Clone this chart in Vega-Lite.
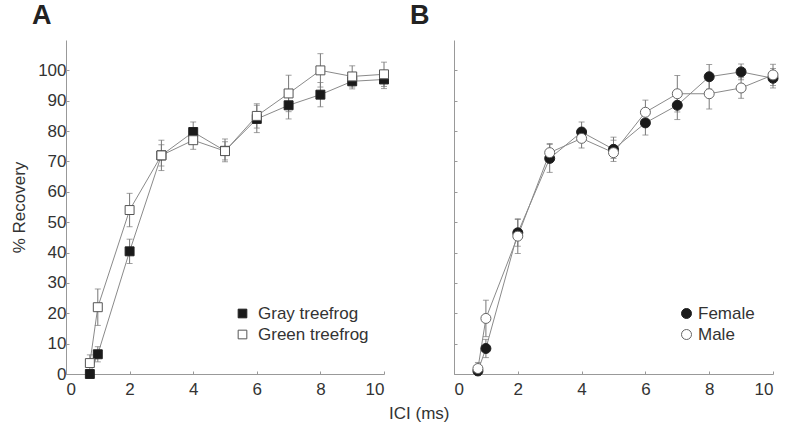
{
  "$schema": "https://vega.github.io/schema/vega-lite/v6.json",
  "padding": {"left": 10, "top": 2, "right": 2, "bottom": 5},
  "background": "white",
  "datasets": {
    "d": [
      {"panel": "A", "series": "Gray treefrog", "ici": 0.75, "mean": 0, "lo": -0.8, "hi": 0.8},
      {"panel": "A", "series": "Gray treefrog", "ici": 1, "mean": 6.5, "lo": 4, "hi": 9},
      {"panel": "A", "series": "Gray treefrog", "ici": 2, "mean": 40.4, "lo": 36.4, "hi": 44.4},
      {"panel": "A", "series": "Gray treefrog", "ici": 3, "mean": 72, "lo": 68.5, "hi": 75.5},
      {"panel": "A", "series": "Gray treefrog", "ici": 4, "mean": 79.7, "lo": 76.4, "hi": 83},
      {"panel": "A", "series": "Gray treefrog", "ici": 5, "mean": 73.5, "lo": 70.5, "hi": 76.5},
      {"panel": "A", "series": "Gray treefrog", "ici": 6, "mean": 84, "lo": 79.5, "hi": 88.5},
      {"panel": "A", "series": "Gray treefrog", "ici": 7, "mean": 88.5, "lo": 84, "hi": 93},
      {"panel": "A", "series": "Gray treefrog", "ici": 8, "mean": 92, "lo": 88, "hi": 96},
      {"panel": "A", "series": "Gray treefrog", "ici": 9, "mean": 96.4, "lo": 93.9, "hi": 98.9},
      {"panel": "A", "series": "Gray treefrog", "ici": 10, "mean": 97, "lo": 94, "hi": 100},
      {"panel": "A", "series": "Green treefrog", "ici": 0.75, "mean": 3.6, "lo": 0.9, "hi": 6.3},
      {"panel": "A", "series": "Green treefrog", "ici": 1, "mean": 22, "lo": 16, "hi": 28},
      {"panel": "A", "series": "Green treefrog", "ici": 2, "mean": 54, "lo": 48.5, "hi": 59.5},
      {"panel": "A", "series": "Green treefrog", "ici": 3, "mean": 72, "lo": 67, "hi": 77},
      {"panel": "A", "series": "Green treefrog", "ici": 4, "mean": 77, "lo": 74, "hi": 80},
      {"panel": "A", "series": "Green treefrog", "ici": 5, "mean": 73.4, "lo": 69.9, "hi": 77.4},
      {"panel": "A", "series": "Green treefrog", "ici": 6, "mean": 85, "lo": 81, "hi": 89},
      {"panel": "A", "series": "Green treefrog", "ici": 7, "mean": 92.4, "lo": 86.4, "hi": 98.4},
      {"panel": "A", "series": "Green treefrog", "ici": 8, "mean": 100, "lo": 94.5, "hi": 105.5},
      {"panel": "A", "series": "Green treefrog", "ici": 9, "mean": 98, "lo": 94.5, "hi": 101.5},
      {"panel": "A", "series": "Green treefrog", "ici": 10, "mean": 98.7, "lo": 94.7, "hi": 102.7},
      {"panel": "B", "series": "Female", "ici": 0.75, "mean": 1, "lo": -0.5, "hi": 2.5},
      {"panel": "B", "series": "Female", "ici": 1, "mean": 8.4, "lo": 5.4, "hi": 11.4},
      {"panel": "B", "series": "Female", "ici": 2, "mean": 46.5, "lo": 42.1, "hi": 50.9},
      {"panel": "B", "series": "Female", "ici": 3, "mean": 71, "lo": 66.4, "hi": 75.6},
      {"panel": "B", "series": "Female", "ici": 4, "mean": 79.7, "lo": 76.4, "hi": 83},
      {"panel": "B", "series": "Female", "ici": 5, "mean": 74, "lo": 71, "hi": 77},
      {"panel": "B", "series": "Female", "ici": 6, "mean": 82.7, "lo": 78.7, "hi": 86.7},
      {"panel": "B", "series": "Female", "ici": 7, "mean": 88.5, "lo": 83.8, "hi": 93.2},
      {"panel": "B", "series": "Female", "ici": 8, "mean": 97.9, "lo": 93.9, "hi": 101.9},
      {"panel": "B", "series": "Female", "ici": 9, "mean": 99.5, "lo": 96.9, "hi": 102.1},
      {"panel": "B", "series": "Female", "ici": 10, "mean": 97.4, "lo": 94.2, "hi": 100.6},
      {"panel": "B", "series": "Male", "ici": 0.75, "mean": 1.8, "lo": -0.2, "hi": 3.8},
      {"panel": "B", "series": "Male", "ici": 1, "mean": 18.3, "lo": 12.3, "hi": 24.3},
      {"panel": "B", "series": "Male", "ici": 2, "mean": 45.4, "lo": 39.7, "hi": 51.1},
      {"panel": "B", "series": "Male", "ici": 3, "mean": 72.9, "lo": 69.9, "hi": 75.9},
      {"panel": "B", "series": "Male", "ici": 4, "mean": 77.6, "lo": 74.4, "hi": 80.8},
      {"panel": "B", "series": "Male", "ici": 5, "mean": 72.9, "lo": 70, "hi": 78},
      {"panel": "B", "series": "Male", "ici": 6, "mean": 86.2, "lo": 82.2, "hi": 90.2},
      {"panel": "B", "series": "Male", "ici": 7, "mean": 92.3, "lo": 86.3, "hi": 98.3},
      {"panel": "B", "series": "Male", "ici": 8, "mean": 92.3, "lo": 87.3, "hi": 97.3},
      {"panel": "B", "series": "Male", "ici": 9, "mean": 94.2, "lo": 90.8, "hi": 97.6},
      {"panel": "B", "series": "Male", "ici": 10, "mean": 98.5, "lo": 95, "hi": 102}
    ]
  },
  "title": {"text": "ICI (ms)", "orient": "bottom", "anchor": "middle", "fontSize": 17, "fontWeight": "normal", "font": "Liberation Sans", "color": "#333", "offset": 9, "dx": 24},
  "spacing": 19,
  "config": {
    "view": {"stroke": null},
    "font": "Liberation Sans",
    "axis": {
      "grid": false,
      "domainColor": "#999",
      "tickColor": "#999",
      "tickSize": -3,
      "labelColor": "#333",
      "labelFont": "Liberation Sans",
      "labelFontSize": 17,
      "labelOverlap": false,
      "titleFont": "Liberation Sans",
      "titleFontSize": 17,
      "titleFontWeight": "normal",
      "titleColor": "#333"
    },
    "legend": {
      "labelFont": "Liberation Sans",
      "labelFontSize": 17,
      "labelColor": "#333",
      "rowPadding": 3
    },
    "title": {"font": "Liberation Sans"}
  },
  "hconcat": [
    {
      "width": 318,
      "height": 334,
      "data": {"name": "d"},
      "transform": [{"filter": "datum.panel == 'A'"}],
      "title": {"text": "A", "anchor": "start", "frame": "group", "dx": -34, "fontSize": 27, "fontWeight": "bold", "color": "#222", "offset": 10},
      "encoding": {
        "x": {"field": "ici", "type": "quantitative", "scale": {"domain": [0, 10]}, "axis": {"values": [0, 2, 4, 6, 8, 10], "title": null, "labelPadding": 10}}
      },
      "layer": [
        {
          "mark": {"type": "line", "color": "#8a8a8a", "strokeWidth": 1},
          "encoding": {
            "y": {"field": "mean", "type": "quantitative", "scale": {"domain": [0, 107]}, "axis": {"values": [0, 10, 20, 30, 40, 50, 60, 70, 80, 90, 100], "title": "% Recovery", "labelPadding": 3, "titlePadding": 9}},
            "detail": {"field": "series"}
          }
        },
        {
          "mark": {"type": "errorbar", "ticks": {"size": 6, "color": "#777", "thickness": 1}, "color": "#777", "thickness": 1},
          "encoding": {
            "y": {"field": "lo", "type": "quantitative", "axis": {"values": [0, 10, 20, 30, 40, 50, 60, 70, 80, 90, 100], "title": "% Recovery", "labelPadding": 3, "titlePadding": 9}},
            "y2": {"field": "hi"},
            "detail": {"field": "series"}
          }
        },
        {
          "mark": {"type": "point", "shape": "square", "filled": true, "size": 80, "strokeWidth": 1, "opacity": 1},
          "encoding": {
            "y": {"field": "mean", "type": "quantitative", "axis": {"values": [0, 10, 20, 30, 40, 50, 60, 70, 80, 90, 100], "title": "% Recovery", "labelPadding": 3, "titlePadding": 9}},
            "fill": {"field": "series", "type": "nominal", "scale": {"range": ["#1a1a1a", "#ffffff"]}, "legend": {"orient": "none", "legendX": 168, "legendY": 265, "title": null, "symbolType": "square", "symbolSize": 75, "labelOffset": 7, "symbolStrokeWidth": 1}},
            "stroke": {"field": "series", "type": "nominal", "scale": {"range": ["#222222", "#555555"]}, "legend": {"orient": "none", "legendX": 168, "legendY": 265, "title": null, "symbolType": "square", "symbolSize": 75, "labelOffset": 7, "symbolStrokeWidth": 1}}
          }
        }
      ]
    },
    {
      "width": 319,
      "height": 334,
      "data": {"name": "d"},
      "transform": [{"filter": "datum.panel == 'B'"}],
      "title": {"text": "B", "anchor": "start", "frame": "group", "dx": -44, "fontSize": 27, "fontWeight": "bold", "color": "#222", "offset": 10},
      "encoding": {
        "x": {"field": "ici", "type": "quantitative", "scale": {"domain": [0, 10]}, "axis": {"values": [0, 2, 4, 6, 8, 10], "title": null, "labelPadding": 10}}
      },
      "layer": [
        {
          "mark": {"type": "line", "color": "#8a8a8a", "strokeWidth": 1},
          "encoding": {
            "y": {"field": "mean", "type": "quantitative", "scale": {"domain": [0, 107]}, "axis": {"values": [0, 10, 20, 30, 40, 50, 60, 70, 80, 90, 100], "title": null, "labels": false}},
            "detail": {"field": "series"}
          }
        },
        {
          "mark": {"type": "errorbar", "ticks": {"size": 6, "color": "#777", "thickness": 1}, "color": "#777", "thickness": 1},
          "encoding": {
            "y": {"field": "lo", "type": "quantitative", "axis": {"values": [0, 10, 20, 30, 40, 50, 60, 70, 80, 90, 100], "title": null, "labels": false}},
            "y2": {"field": "hi"},
            "detail": {"field": "series"}
          }
        },
        {
          "mark": {"type": "point", "shape": "circle", "filled": true, "size": 100, "strokeWidth": 1, "opacity": 1},
          "encoding": {
            "y": {"field": "mean", "type": "quantitative", "axis": {"values": [0, 10, 20, 30, 40, 50, 60, 70, 80, 90, 100], "title": null, "labels": false}},
            "fill": {"field": "series", "type": "nominal", "scale": {"range": ["#1a1a1a", "#ffffff"]}, "legend": {"orient": "none", "legendX": 224, "legendY": 265, "title": null, "symbolType": "circle", "symbolSize": 100, "labelOffset": 3, "symbolStrokeWidth": 1}},
            "stroke": {"field": "series", "type": "nominal", "scale": {"range": ["#222222", "#666666"]}, "legend": {"orient": "none", "legendX": 224, "legendY": 265, "title": null, "symbolType": "circle", "symbolSize": 100, "labelOffset": 3, "symbolStrokeWidth": 1}}
          }
        }
      ]
    }
  ],
  "resolve": {"scale": {"fill": "independent", "stroke": "independent"}}
}
